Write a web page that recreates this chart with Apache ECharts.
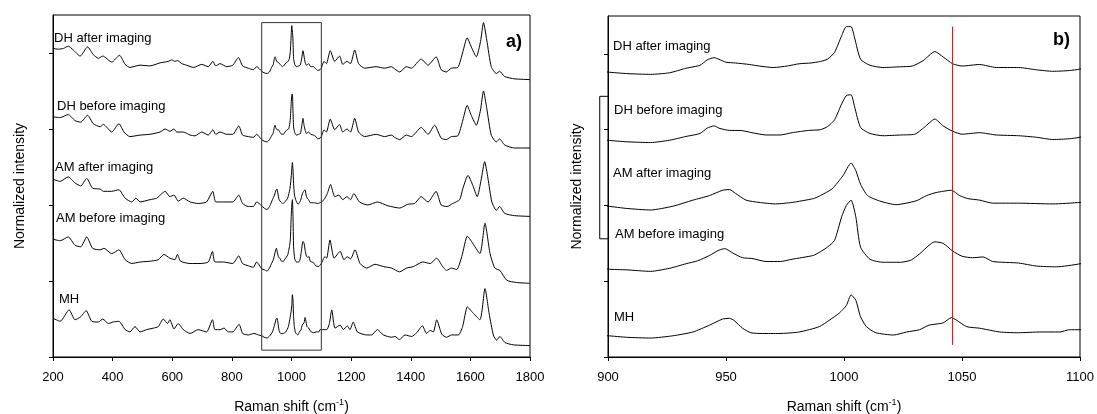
<!DOCTYPE html>
<html><head><meta charset="utf-8">
<script src="https://cdn.jsdelivr.net/npm/echarts@6/dist/echarts.min.js"></script>
<style>html,body{margin:0;padding:0;background:#fff}#c{width:1097px;height:414px}</style>
</head><body><div id="c"></div>
<script>
// Raman spectra (x: Raman shift cm-1, y: normalized intensity incl. vertical offset)
const spectrumNames = ['DH after imaging', 'DH before imaging', 'AM after imaging', 'AM before imaging', 'MH'];

const dhAfter = [[200,4.06],[218,4.05],[235,4.06],[251,4.09],[268,4.04],[291,3.96],[316,4.08],[335,3.98],[352,3.93],[367,3.96],[397,3.88],[423,3.97],[442,3.85],[458,3.81],[492,3.84],[525,3.83],[559,3.87],[587,3.89],[598,3.91],[609,3.89],[618,3.90],[632,3.86],[648,3.84],[671,3.81],[699,3.85],[721,3.82],[736,3.89],[746,3.83],[760,3.86],[783,3.82],[803,3.84],[822,3.94],[836,3.83],[855,3.80],[872,3.78],[883,3.82],
[900,3.76],[908,3.74],[918,3.73],[926,3.75],[933,3.81],[939,3.85],[942,3.92],[945,3.95],[947,3.93],[950,3.89],[954,3.88],[960,3.86],[964,3.84],[970,3.82],[976,3.84],[981,3.87],[986,3.88],[990,3.90],[993,3.93],[996,4.02],[999,4.24],[1001,4.36],[1003,4.36],[1004.5,4.21],[1007,3.93],[1011,3.85],[1016.5,3.82],[1024,3.83],[1029,3.84],[1033.5,3.91],[1038.5,4.03],[1042,3.96],[1046,3.87],[1050,3.84],[1057.5,3.86],[1064.5,3.82],[1074,3.82],[1081.5,3.79],[1088.5,3.77],[1095.5,3.78],[1100,3.80],
[1109,3.89],[1117,3.86],[1130,4.03],[1145,3.89],[1161,3.96],[1172,3.85],[1186,3.89],[1198,3.86],[1212,4.04],[1225,3.86],[1245,3.80],[1284,3.82],[1312,3.80],[1335,3.82],[1346,3.79],[1363,3.75],[1385,3.82],[1402,3.80],[1435,3.92],[1458,3.84],[1485,3.95],[1502,3.78],[1519,3.75],[1536,3.80],[1558,3.81],[1575,4.02],[1589,4.20],[1603,4.08],[1620,3.95],[1634,4.15],[1644,4.40],[1655,4.17],[1670,3.82],[1687,3.73],[1698,3.76],[1715,3.69],[1748,3.66],[1800,3.65]];

const dhBefore = [[200,3.16],[224,3.15],[251,3.19],[274,3.11],[293,3.09],[316,3.18],[335,3.07],[358,3.03],[369,3.06],[397,2.96],[421,3.07],[438,2.96],[458,2.90],[492,2.92],[525,2.93],[559,2.96],[576,3.00],[592,2.97],[606,3.00],[615,2.96],[637,2.96],[660,2.92],[676,2.91],[699,2.96],[721,2.92],[736,2.99],[746,2.93],[760,2.96],[783,2.93],[803,2.93],[823,3.04],[836,2.92],[855,2.90],[872,2.89],[883,2.93],
[900,2.86],[908,2.84],[918,2.83],[926,2.86],[933,2.91],[939,2.95],[942,3.02],[945,3.05],[947,3.02],[951.5,2.99],[956,2.99],[961,2.96],[967,2.93],[973,2.93],[978,2.96],[985,2.99],[990,3.00],[993,3.04],[996,3.13],[999,3.34],[1001,3.45],[1003,3.46],[1004.5,3.30],[1007,3.03],[1011,2.95],[1016.5,2.92],[1024,2.93],[1030,2.94],[1034,3.03],[1038.5,3.14],[1042,3.05],[1046,2.98],[1050,2.94],[1057.5,2.96],[1064.5,2.93],[1074,2.92],[1081.5,2.90],[1088.5,2.87],[1095.5,2.88],[1100,2.90],
[1109,2.99],[1117,2.96],[1130,3.13],[1145,2.99],[1161,3.06],[1172,2.96],[1186,3.00],[1198,2.96],[1212,3.14],[1225,2.96],[1245,2.90],[1284,2.93],[1312,2.90],[1335,2.92],[1346,2.89],[1363,2.86],[1385,2.92],[1402,2.90],[1435,3.02],[1458,2.93],[1480,3.05],[1502,2.88],[1519,2.86],[1536,2.90],[1558,2.91],[1575,3.12],[1589,3.31],[1603,3.18],[1620,3.05],[1634,3.25],[1644,3.50],[1655,3.27],[1670,2.92],[1687,2.83],[1698,2.87],[1715,2.79],[1748,2.75],[1800,2.75]];

const amAfter = [[200,2.34],[224,2.31],[251,2.37],[274,2.29],[293,2.25],[313,2.35],[333,2.22],[358,2.21],[369,2.18],[397,2.18],[421,2.20],[442,2.09],[464,2.04],[478,2.09],[492,2.04],[525,2.07],[548,2.09],[565,2.15],[576,2.18],[592,2.11],[606,2.13],[620,2.05],[637,2.09],[660,2.04],[687,2.02],[715,2.04],[736,2.18],[746,2.04],[771,2.04],[803,2.04],[823,2.13],[836,2.02],[855,1.98],[872,1.98],[883,2.04],
[900,1.99],[908,1.96],[918,1.94],[927.5,1.99],[936,2.07],[943,2.13],[948.5,2.20],[951.5,2.21],[954,2.16],[958.5,2.07],[964,2.04],[971,2.02],[978,2.04],[987,2.09],[990,2.13],[995,2.22],[999.5,2.39],[1003,2.56],[1005,2.46],[1007,2.28],[1010,2.13],[1015,2.06],[1022,2.01],[1030.5,2.06],[1035,2.13],[1039,2.17],[1045.5,2.20],[1049,2.13],[1052.5,2.09],[1057.5,2.07],[1063,2.03],[1074,2.03],[1088.5,2.02],[1100,2.04],
[1109,2.07],[1120,2.15],[1131,2.27],[1145,2.11],[1159,2.13],[1172,2.07],[1186,2.11],[1198,2.07],[1209,2.15],[1228,2.04],[1256,2.00],[1288,2.04],[1323,1.99],[1363,1.96],[1390,2.01],[1413,2.02],[1435,2.11],[1458,2.04],[1485,2.18],[1502,2.00],[1522,1.98],[1541,2.02],[1564,2.07],[1575,2.22],[1592,2.39],[1608,2.26],[1623,2.11],[1636,2.33],[1648,2.57],[1659,2.35],[1672,2.04],[1687,1.93],[1698,1.98],[1715,1.89],[1748,1.86],[1800,1.85]];

const amBefore = [[200,1.55],[224,1.53],[251,1.58],[274,1.47],[293,1.45],[313,1.58],[333,1.43],[358,1.41],[371,1.43],[397,1.36],[421,1.41],[442,1.28],[464,1.23],[492,1.25],[525,1.26],[553,1.28],[572,1.35],[592,1.30],[609,1.28],[617,1.35],[628,1.26],[660,1.23],[693,1.23],[721,1.25],[735,1.39],[743,1.25],[771,1.25],[803,1.23],[823,1.33],[836,1.23],[855,1.20],[872,1.18],[883,1.25],
[900,1.16],[908,1.15],[918,1.13],[926,1.17],[933,1.23],[938,1.27],[943,1.34],[947,1.41],[949.5,1.43],[953,1.37],[957,1.31],[961,1.30],[967,1.26],[973,1.26],[978,1.29],[987,1.34],[990,1.39],[993,1.45],[996,1.54],[999,1.85],[1001,2.00],[1003,2.07],[1005,1.85],[1007,1.45],[1011,1.29],[1016.5,1.25],[1024,1.25],[1028.5,1.28],[1032,1.36],[1038.5,1.52],[1042,1.50],[1046,1.40],[1050,1.33],[1054.5,1.31],[1059,1.32],[1063,1.26],[1074,1.24],[1081.5,1.20],[1090,1.19],[1100,1.23],
[1112,1.32],[1118,1.30],[1129,1.54],[1143,1.30],[1163,1.39],[1176,1.28],[1187,1.32],[1198,1.29],[1213,1.41],[1230,1.23],[1252,1.17],[1280,1.22],[1308,1.19],[1336,1.17],[1362,1.12],[1386,1.17],[1409,1.19],[1440,1.25],[1465,1.23],[1487,1.30],[1507,1.19],[1520,1.14],[1537,1.17],[1554,1.15],[1571,1.32],[1590,1.59],[1604,1.52],[1632,1.36],[1649,1.76],[1666,1.36],[1682,1.17],[1699,1.14],[1722,1.01],[1755,0.98],[1800,0.97]];

const mh = [[200,0.51],[224,0.47],[254,0.62],[274,0.49],[293,0.53],[311,0.61],[330,0.47],[352,0.46],[367,0.50],[386,0.44],[402,0.46],[421,0.47],[442,0.36],[458,0.33],[475,0.40],[492,0.33],[514,0.36],[537,0.38],[553,0.40],[570,0.50],[584,0.44],[592,0.49],[606,0.37],[620,0.44],[637,0.36],[660,0.31],[687,0.36],[715,0.33],[735,0.49],[743,0.36],[760,0.36],[774,0.38],[788,0.33],[803,0.33],[824,0.43],[836,0.31],[855,0.29],[874,0.31],[889,0.29],
[900,0.28],[908,0.26],[918,0.25],[927.5,0.28],[936,0.33],[943,0.42],[948.5,0.50],[951.5,0.51],[953.5,0.48],[957,0.38],[960.5,0.32],[965.5,0.31],[972.5,0.31],[981,0.33],[989.5,0.40],[994,0.49],[998,0.58],[1001,0.68],[1003,0.82],[1005,0.75],[1007,0.53],[1009.5,0.40],[1013.5,0.32],[1021,0.29],[1026.5,0.33],[1032,0.36],[1036,0.42],[1042,0.45],[1045.5,0.52],[1047.5,0.49],[1052,0.40],[1057.5,0.38],[1066,0.33],[1074,0.32],[1083,0.33],[1091.5,0.33],[1095.5,0.36],[1100,0.36],
[1118,0.36],[1127,0.44],[1135,0.62],[1146,0.38],[1163,0.42],[1174,0.36],[1187,0.41],[1196,0.36],[1207,0.46],[1221,0.33],[1252,0.29],[1269,0.29],[1288,0.36],[1308,0.29],[1336,0.26],[1347,0.27],[1362,0.23],[1381,0.29],[1403,0.27],[1420,0.32],[1439,0.41],[1453,0.31],[1465,0.35],[1476,0.33],[1487,0.49],[1504,0.30],[1520,0.26],[1537,0.29],[1560,0.29],[1574,0.40],[1590,0.66],[1604,0.60],[1632,0.49],[1649,0.90],[1663,0.57],[1677,0.29],[1688,0.22],[1699,0.27],[1716,0.19],[1744,0.16],[1800,0.15]];

// annotations
const zoomBox = [[900,0.09],[900,4.40],[1100,4.40],[1100,0.09],[900,0.09]];
const refLine = [[1046,0.16],[1046,4.36]];
const bracket = [[900,3.44],[896.5,3.44],[896.5,1.56],[900,1.56]];
const yTickValues = [0,1,2,3,4];

const spectra = [dhAfter, dhBefore, amAfter, amBefore, mh];
const FONT = 'Liberation Sans, Arial, sans-serif';

const chart = echarts.init(document.getElementById('c'), null, {renderer: 'canvas'});

function xAxis(idx, min, max, interval) {
  return {
    type: 'value', gridIndex: idx, min, max, interval,
    name: 'Raman shift (cm{sup|-1})', nameLocation: 'middle', nameGap: 41,
    nameTextStyle: {color: '#000', fontSize: 14, fontFamily: FONT,
      rich: {sup: {fontSize: 9, fontFamily: FONT, color: '#000', verticalAlign: 'bottom', padding: [0, 0, 9, 0]}}},
    axisLine: {show: true, lineStyle: {color: '#000', width: 1}},
    axisTick: {show: true, length: 4, lineStyle: {color: '#000'}},
    axisLabel: {color: '#000', fontSize: 13, fontFamily: FONT, margin: 14, formatter: v => String(v)},
    splitLine: {show: false}
  };
}
function yAxis(idx, gap) {
  return {
    type: 'value', gridIndex: idx, min: 0, max: 4.5, interval: 1,
    name: 'Normalized intensity', nameLocation: 'middle', nameGap: gap,
    nameTextStyle: {color: '#000', fontSize: 14, fontFamily: FONT},
    axisLine: {show: true, lineStyle: {color: '#000', width: 1}},
    axisTick: {show: true, length: 4, customValues: yTickValues, lineStyle: {color: '#000'}},
    axisLabel: {show: false},
    splitLine: {show: false}
  };
}

const series = [];
[0, 1].forEach(g => {
  spectra.forEach((d, i) => {
    series.push({
      name: spectrumNames[i] + (g ? ' (b)' : ' (a)'),
      type: 'line', xAxisIndex: g, yAxisIndex: g, data: d,
      showSymbol: false, smooth: 0.2, silent: true,
      lineStyle: {color: '#000', width: 1}
    });
  });
});
series.push({type: 'line', xAxisIndex: 0, yAxisIndex: 0, data: zoomBox, showSymbol: false, silent: true,
  lineStyle: {color: '#333', width: 1}});
series.push({type: 'line', xAxisIndex: 1, yAxisIndex: 1, data: refLine, showSymbol: false, silent: true,
  lineStyle: {color: '#ff0000', width: 1}});

function lbl(x, y, text) {
  return {type: 'text', x, y, silent: true,
    style: {text, fill: '#000', font: '13px ' + FONT, verticalAlign: 'middle', align: 'left'}};
}

const graphics = [
  lbl(54, 38, spectrumNames[0]), lbl(57, 106, spectrumNames[1]), lbl(55, 167, spectrumNames[2]),
  lbl(56, 218, spectrumNames[3]), lbl(59, 299, spectrumNames[4]),
  lbl(613, 46, spectrumNames[0]), lbl(614, 110, spectrumNames[1]), lbl(613, 173, spectrumNames[2]),
  lbl(615, 234, spectrumNames[3]), lbl(614, 317, spectrumNames[4]),
  {type: 'text', x: 522, y: 42, silent: true, style: {text: 'a)', fill: '#000', font: 'bold 18px ' + FONT, align: 'right', verticalAlign: 'middle'}},
  {type: 'text', x: 1070, y: 40, silent: true, style: {text: 'b)', fill: '#000', font: 'bold 18px ' + FONT, align: 'right', verticalAlign: 'middle'}}
];

chart.setOption({
  animation: false,
  backgroundColor: '#fff',
  grid: [
    {left: 53, right: 567, top: 15, bottom: 57, outerBoundsMode: 'none', containLabel: false,
      show: true, borderColor: '#000', borderWidth: 1, backgroundColor: 'transparent'},
    {left: 608, right: 17, top: 16, bottom: 57, outerBoundsMode: 'none', containLabel: false,
      show: true, borderColor: '#000', borderWidth: 1, backgroundColor: 'transparent'}
  ],
  xAxis: [xAxis(0, 200, 1800, 200), xAxis(1, 900, 1100, 50)],
  yAxis: [yAxis(0, 26), yAxis(1, 24)],
  series,
  graphic: graphics
});

// bracket left of panel b), placed through the panel's own scales
const bracketPts = bracket.map(p => chart.convertToPixel({gridIndex: 1}, p));
chart.setOption({
  graphic: graphics.concat([{type: 'polyline', silent: true, shape: {points: bracketPts},
    style: {stroke: '#000', lineWidth: 1, fill: null}}])
});
</script>
</body></html>
